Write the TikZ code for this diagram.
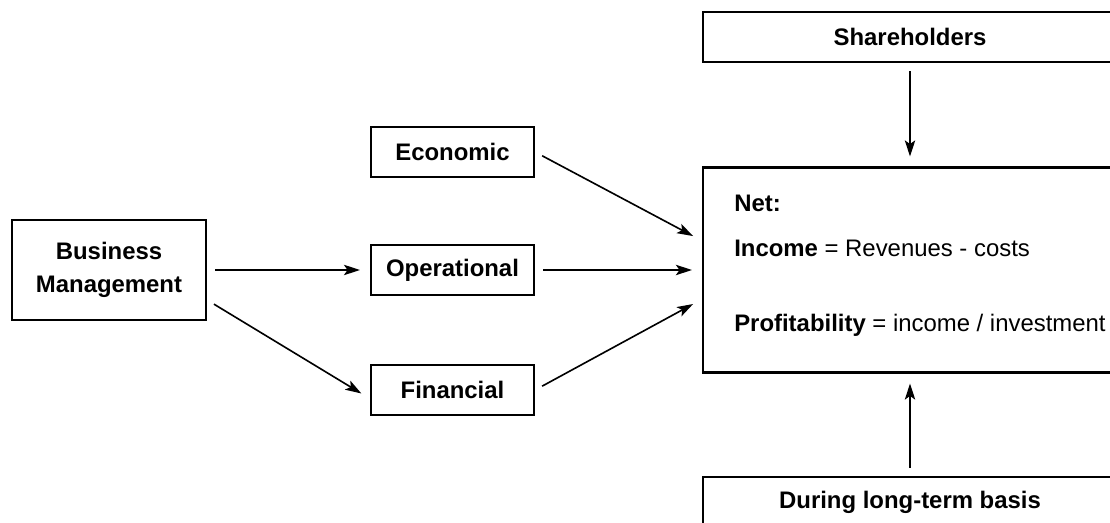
\documentclass[tikz,border=0pt]{standalone}
\usepackage{fontspec}
\setmainfont{Liberation Sans}
\usepackage{tikz}
\usetikzlibrary{arrows.meta}

\begin{document}
\begin{tikzpicture}[x=0.025cm,y=-0.025cm,
  box/.style={draw,line width=1.5pt,rectangle,inner sep=0pt,font=\bfseries},
  link/.style={-{Stealth[length=0.4cm,width=0.26cm,inset=0.09cm]},line width=1.15pt,shorten <=0.2cm,shorten >=0.25cm}]
  \useasboundingbox (0,0) rectangle (1110,523);
  \fontsize{17pt}{23pt}\selectfont
  % left part
  \node[box,minimum width=4.85cm,minimum height=2.5cm,align=center] (bm) at (109,270) {Business\\Management};
  \node[box,minimum width=4.075cm,minimum height=1.25cm] (eco) at (452.5,152) {Economic};
  \node[box,minimum width=4.075cm,minimum height=1.25cm] (ope) at (452.5,270) {Operational};
  \node[box,minimum width=4.075cm,minimum height=1.25cm] (fin) at (452.5,390) {Financial};
  % right part
  \node[box,minimum width=10.35cm,minimum height=1.25cm] (share) at (910,37) {Shareholders};
  \node[box,minimum width=10.35cm,minimum height=5.125cm] (net) at (910,270) {};
  \node[box,minimum width=10.35cm,minimum height=1.25cm] (term) at (910,502) {During long-term basis};
  \node[anchor=west,inner sep=0pt] (nettxt) at (734,203) {\bfseries Net:};
  \node[anchor=west,inner sep=0pt] (income) at (734,248) {\textbf{Income} = Revenues - costs};
  \node[anchor=west,inner sep=0pt] (profit) at (734,325) {\textbf{Profitability} = income / investment};
  \draw[link] (bm.east) -- (ope.west);
  \draw[link] (bm.-17) -- (fin.186);
  \draw[link] (eco.east) -- (net.172);
  \draw[link] (ope.east) -- (net.west);
  \draw[link] (fin.east) -- (net.188);
  \draw[link] (share.south) -- (net.north);
  \draw[link] (term.north) -- (net.south);
\end{tikzpicture}
\end{document}
